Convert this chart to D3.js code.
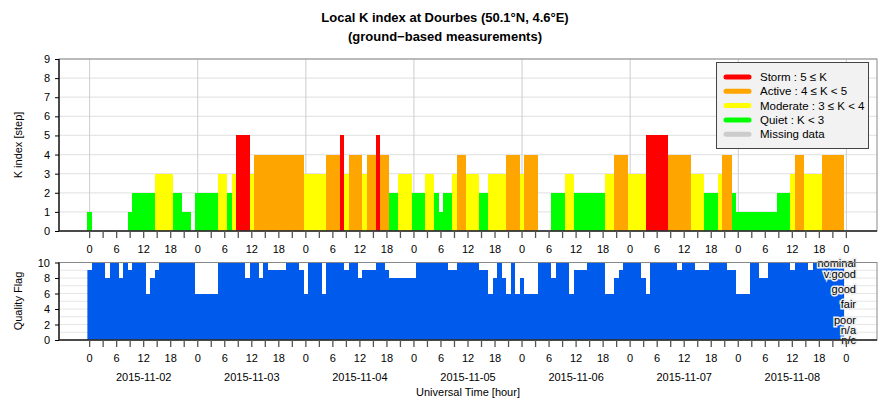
<!DOCTYPE html>
<html><head><meta charset="utf-8">
<script src="https://cdn.jsdelivr.net/npm/d3@7"></script>
<style>body{margin:0;background:#fff}text{font-family:"Liberation Sans",Arial,sans-serif}</style>
</head><body><div id="chart"></div>
<script>
// hours since 2015-11-02 00:00 UT; [start, end, K]
const kSegments = [
  [-0.5, 0.5, 1], [8.5, 9.5, 1], [9.5, 14.5, 2], [14.5, 18.5, 3], [18.5, 20.5, 2], [20.5, 22.5, 1],
  [23.5, 28.5, 2], [28.5, 30.5, 3], [30.5, 31.5, 2], [31.5, 32.5, 3], [32.5, 35.5, 5], [35.5, 36.5, 3],
  [36.5, 47.5, 4], [47.5, 52.5, 3], [52.5, 55.5, 4], [55.5, 56.5, 5], [56.5, 57.5, 3], [57.5, 60.5, 4],
  [60.5, 61.5, 3], [61.5, 63.5, 4], [63.5, 64.5, 5], [64.5, 66.5, 4], [66.5, 68.5, 2], [68.5, 71.5, 3],
  [71.5, 74.5, 2], [74.5, 76.5, 3], [76.5, 77.5, 2], [77.5, 78.5, 1], [78.5, 80.5, 2], [80.5, 81.5, 3],
  [81.5, 83.5, 4], [83.5, 86.5, 3], [86.5, 88.5, 2], [88.5, 92.5, 3], [92.5, 95.5, 4], [95.5, 96.5, 3],
  [96.5, 99.5, 4], [102.5, 105.5, 2], [105.5, 107.5, 3], [107.5, 114.5, 2], [114.5, 116.5, 3],
  [116.5, 119.5, 4], [119.5, 123.5, 3], [123.5, 128.5, 5], [128.5, 133.5, 4], [133.5, 136.5, 3],
  [136.5, 139.5, 2], [139.5, 140.5, 3], [140.5, 142.5, 4], [142.5, 143.5, 2], [143.5, 152.5, 1],
  [152.5, 155.5, 2], [155.5, 156.5, 3], [156.5, 158.5, 4], [158.5, 162.5, 3], [162.5, 167.5, 4]
]
// quality flag is 10 over [-0.5,167.5] except these
const qualityRange = [-0.5, 167.5]
const qualityDips = [
  [-0.5, 0.5, 9], [3.5, 4.5, 8], [6.5, 7.5, 8], [8.5, 9.5, 9], [12.5, 13.5, 6], [13.5, 14.5, 8],
  [14.5, 15.5, 9], [23.5, 28.5, 6], [34.5, 35.5, 8], [37.5, 38.5, 8], [39.5, 43.5, 9], [46.5, 47.5, 9],
  [47.5, 48.5, 6], [51.5, 52.5, 6], [56.5, 57.5, 9], [59.5, 60.5, 8], [60.5, 63.5, 9], [65.5, 66.5, 9],
  [66.5, 72.5, 8], [79.5, 81.5, 9], [86.5, 88.5, 9], [88.5, 89.5, 6], [89.5, 90.5, 8], [91.5, 92.5, 8],
  [92.5, 93.5, 6], [94.5, 95.5, 6], [95.5, 96.5, 8], [96.5, 99.5, 6], [102.5, 103.5, 8], [106.5, 107.5, 6],
  [107.5, 110.5, 9], [114.5, 116.5, 6], [116.5, 117.5, 8], [117.5, 118.5, 9], [122.5, 123.5, 8],
  [123.5, 124.5, 6], [130.5, 131.5, 9], [134.5, 137.5, 9], [141.5, 143.5, 9], [143.5, 146.5, 6],
  [148.5, 150.5, 8], [155.5, 156.5, 9], [159.5, 160.5, 9]
]
const dayLabels = ['2015-11-02', '2015-11-03', '2015-11-04', '2015-11-05', '2015-11-06', '2015-11-07', '2015-11-08']
const qualityLabels = [['nominal', 10], ['v.good', 8.5], ['good', 6.6], ['fair', 4.6], ['poor', 2.6], ['n/a', 1.3], ['n/c', 0]]
const legendItems = [
  ['Storm : 5 \u2264 K', '#ff0000'], ['Active : 4 \u2264 K < 5', '#ffa500'],
  ['Moderate : 3 \u2264 K < 4', '#ffff00'], ['Quiet : K < 3', '#00ff00'], ['Missing data', '#cccccc']
]

const width = 886
const height = 400
const svg = d3.select('#chart').append('svg').attr('width', width).attr('height', height)

const x = d3.scaleLinear().domain([-6.8, 174.8]).range([59, 877])
const yK = d3.scaleLinear().domain([0, 9]).range([231, 59])
const yQ = d3.scaleLinear().domain([0, 10]).range([340, 262.5])

const kColor = (k) => k >= 5 ? '#ff0000' : k >= 4 ? '#ffa500' : k >= 3 ? '#ffff00' : '#00ff00'
const hours = d3.range(0, 169, 3)
const sixHours = d3.range(0, 169, 6)

// title
svg.append('text').attr('x', 445).attr('y', 22).attr('text-anchor', 'middle')
  .attr('font-size', 13).attr('font-weight', 'bold').text('Local K index at Dourbes (50.1\u00b0N, 4.6\u00b0E)')
svg.append('text').attr('x', 445).attr('y', 41).attr('text-anchor', 'middle')
  .attr('font-size', 13).attr('font-weight', 'bold').text('(ground\u2212based measurements)')

// top panel grid
const topPanel = svg.append('g')
topPanel.selectAll('.hg').data(d3.range(1, 10)).join('line')
  .attr('x1', 59).attr('x2', 877).attr('y1', (d) => yK(d)).attr('y2', (d) => yK(d))
  .attr('stroke', '#e6e6e6').attr('stroke-width', 1.3)
topPanel.selectAll('.vg').data(d3.range(0, 169, 24)).join('line')
  .attr('x1', (d) => x(d)).attr('x2', (d) => x(d)).attr('y1', 59).attr('y2', 231)
  .attr('stroke', '#cccccc')

topPanel.selectAll('rect.k').data(kSegments).join('rect').attr('class', 'k')
  .attr('x', (d) => x(d[0])).attr('width', (d) => x(d[1]) - x(d[0]))
  .attr('y', (d) => yK(d[2])).attr('height', (d) => yK(0) - yK(d[2]))
  .attr('fill', (d) => kColor(d[2])).attr('shape-rendering', 'crispEdges')

topPanel.append('rect').attr('x', 59).attr('y', 59).attr('width', 818).attr('height', 172)
  .attr('fill', 'none').attr('stroke', '#888')
topPanel.append('line').attr('x1', 59).attr('x2', 59).attr('y1', 59).attr('y2', 231).attr('stroke', '#222').attr('stroke-width', 1.5)
topPanel.append('line').attr('x1', 59).attr('x2', 877).attr('y1', 231).attr('y2', 231).attr('stroke', '#222').attr('stroke-width', 1.5)

topPanel.append('g').attr('transform', 'translate(59,0)')
  .call(d3.axisLeft(yK).ticks(9).tickSize(4).tickPadding(5))
  .call((g) => g.select('.domain').remove())
  .call((g) => g.selectAll('text').attr('font-size', 11))

const hourAxis = (y, gEl) => {
  gEl.selectAll('line.t').data(hours).join('line').attr('class', 't')
    .attr('x1', (d) => x(d)).attr('x2', (d) => x(d)).attr('y1', y).attr('y2', y + 7)
    .attr('stroke', '#555').attr('stroke-width', 1.3)
  gEl.selectAll('text.t').data(sixHours).join('text').attr('class', 't')
    .attr('x', (d) => x(d)).attr('y', y + 22).attr('text-anchor', 'middle').attr('font-size', 11)
    .text((d) => d % 24)
}
hourAxis(231, svg.append('g'))

// bottom panel
const bot = svg.append('g')
bot.selectAll('.hg').data(d3.range(1, 10)).join('line')
  .attr('x1', 59).attr('x2', 877).attr('y1', (d) => yQ(d)).attr('y2', (d) => yQ(d))
  .attr('stroke', '#e6e6e6').attr('stroke-width', 1)
bot.append('rect').attr('x', x(qualityRange[0])).attr('width', x(qualityRange[1]) - x(qualityRange[0]))
  .attr('y', yQ(10)).attr('height', yQ(0) - yQ(10)).attr('fill', '#005aeb')
bot.selectAll('rect.q').data(qualityDips).join('rect').attr('class', 'q')
  .attr('x', (d) => x(d[0])).attr('width', (d) => x(d[1]) - x(d[0]))
  .attr('y', yQ(10)).attr('height', (d) => yQ(d[2]) - yQ(10))
  .attr('fill', '#fff').attr('shape-rendering', 'crispEdges')

const ql = bot.selectAll('g.ql').data(qualityLabels).join('g').attr('class', 'ql')
ql.append('text').attr('x', 856).attr('y', (d) => yQ(d[1]) + 4).attr('text-anchor', 'end')
  .attr('font-size', 11).attr('stroke', '#eee').attr('stroke-width', 3).attr('paint-order', 'stroke')
  .text((d) => d[0])

bot.append('rect').attr('x', 59).attr('y', 262.5).attr('width', 818).attr('height', 77.5)
  .attr('fill', 'none').attr('stroke', '#888')
bot.append('line').attr('x1', 59).attr('x2', 59).attr('y1', 262.5).attr('y2', 340).attr('stroke', '#222').attr('stroke-width', 1.5)
bot.append('line').attr('x1', 59).attr('x2', 877).attr('y1', 340).attr('y2', 340).attr('stroke', '#222').attr('stroke-width', 1.5)
bot.append('g').attr('transform', 'translate(59,0)')
  .call(d3.axisLeft(yQ).tickValues(d3.range(0, 11, 2)).tickSize(4).tickPadding(5))
  .call((g) => g.select('.domain').remove())
  .call((g) => g.selectAll('text').attr('font-size', 11))

hourAxis(340, svg.append('g'))

svg.selectAll('text.day').data(dayLabels).join('text').attr('class', 'day')
  .attr('x', (d, i) => x(i * 24 + 12)).attr('y', 381).attr('text-anchor', 'middle').attr('font-size', 11)
  .text((d) => d)
svg.append('text').attr('x', 468).attr('y', 396).attr('text-anchor', 'middle').attr('font-size', 11)
  .text('Universal Time [hour]')

svg.append('text').attr('transform', 'translate(22,145) rotate(-90)').attr('text-anchor', 'middle')
  .attr('font-size', 11).text('K index [step]')
svg.append('text').attr('transform', 'translate(22,301) rotate(-90)').attr('text-anchor', 'middle')
  .attr('font-size', 11).text('Quality Flag')

// legend
const lg = svg.append('g')
lg.append('rect').attr('x', 716.5).attr('y', 62.5).attr('width', 152).attr('height', 86)
  .attr('fill', '#f2f2f2').attr('stroke', '#444')
const li = lg.selectAll('g.li').data(legendItems).join('g').attr('class', 'li')
  .attr('transform', (d, i) => `translate(0,${77 + i * 14.3})`)
li.append('line').attr('x1', 726).attr('x2', 749).attr('stroke', (d) => d[1])
  .attr('stroke-width', 5).attr('stroke-linecap', 'round')
li.append('text').attr('x', 760).attr('y', 4).attr('font-size', 11.5).text((d) => d[0])
</script></body></html>
